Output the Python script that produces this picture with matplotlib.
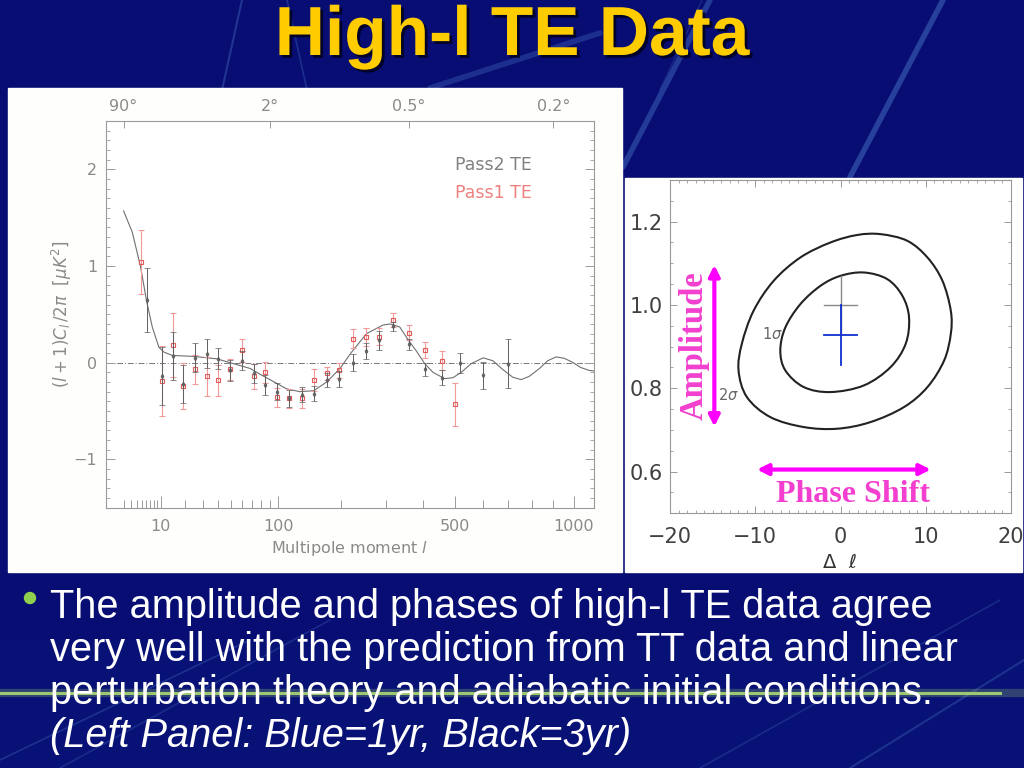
import numpy as np
import matplotlib
matplotlib.use('Agg')
import matplotlib.pyplot as plt
import matplotlib.patheffects as pe
from matplotlib.patches import Rectangle, Circle, PathPatch
from matplotlib.path import Path
from matplotlib.ticker import FixedLocator, FixedFormatter, NullFormatter

# ---------------- data ----------------
theory_l = [2, 3.24, 4.77, 6.1, 7.55, 9.47, 11.1, 14.2, 24.4, 39, 49.4, 68, 78.5,
            99.6, 111, 130, 152, 174, 199, 219, 254, 293, 310, 335, 359, 381, 405,
            430, 467, 494, 522, 557, 601, 638, 677, 718, 754, 790, 835, 873, 913,
            953, 994, 1037, 1081, 1107]
theory_te = [1.57, 1.35, 0.99, 0.64, 0.37, 0.16, 0.11, 0.075, 0.065, 0.04, 0.0, -0.06, -0.12,
             -0.22, -0.27, -0.30, -0.29, -0.20, -0.06, 0.09, 0.30, 0.39, 0.40, 0.37, 0.23, 0.12, -0.01,
             -0.10, -0.165, -0.155, -0.10, -0.01, 0.05, 0.02, -0.07, -0.15, -0.175, -0.14, -0.06, 0.02, 0.06,
             0.045, 0.005, -0.05, -0.08, -0.085]

pass2_l = [6.1, 10.6, 14.6, 19.0, 24.9, 32.3, 39.9, 49.0, 59.7, 71.4, 84, 98, 115, 133,
           152, 174, 197, 224, 252, 283, 318, 359, 405, 459, 518, 601, 699]
pass2_te = [0.65, -0.135, 0.07, -0.22, 0.05, 0.09, 0.04, -0.08, 0.02, -0.11, -0.23, -0.30, -0.37, -0.33,
            -0.32, -0.18, -0.17, 0.00, 0.12, 0.23, 0.375, 0.19, -0.07, -0.155, 0.00, -0.13, -0.01]
pass2_err = [0.33, 0.30, 0.25, 0.20, 0.15, 0.15, 0.11, 0.11, 0.10, 0.10, 0.10, 0.09, 0.09, 0.08,
             0.08, 0.07, 0.08, 0.085, 0.08, 0.10, 0.05, 0.06, 0.065, 0.075, 0.105, 0.14, 0.255]

pass1_l = [4.8, 10.6, 14.6, 19.0, 24.9, 32.3, 39.9, 49.0, 59.7, 71.4, 84, 98, 115, 133,
           152, 174, 197, 224, 252, 283, 318, 359, 405, 459, 500]
pass1_te = [1.04, -0.19, 0.18, -0.24, -0.07, -0.14, -0.18, -0.07, 0.13, -0.14, -0.10, -0.36, -0.37, -0.37,
            -0.18, -0.11, -0.08, 0.25, 0.265, 0.27, 0.44, 0.31, 0.13, 0.02, -0.43]
pass1_err = [0.33, 0.36, 0.33, 0.24, 0.15, 0.20, 0.16, 0.11, 0.12, 0.13, 0.11, 0.10, 0.10, 0.10,
             0.11, 0.07, 0.08, 0.095, 0.09, 0.09, 0.07, 0.08, 0.085, 0.10, 0.22]

bottom_major = [10, 100, 500, 1000]
bottom_major_labels = ['10', '100', '500', '1000']
bottom_minor = [2, 3, 4, 5, 6, 7, 8, 9, 20, 30, 40, 50, 60, 70, 80, 90,
                200, 300, 400, 600, 700, 800, 900]
top_ticks = [2, 90, 360, 900]
top_labels = ['90°', '2°', '0.5°', '0.2°']

# likelihood contours (phase shift, amplitude)
sig2_x = [4.71, 7.84, 10.2, 11.96, 12.94, 12.94, 12.16, 10.2, 7.45, 3.53, -0.39, -4.31,
          -8.24, -10.98, -11.96, -11.57, -10.2, -7.84, -4.71, -1.18, 1.96]
sig2_y = [1.170, 1.154, 1.114, 1.058, 0.986, 0.931, 0.867, 0.803, 0.755, 0.719, 0.703, 0.707,
          0.731, 0.779, 0.843, 0.907, 0.986, 1.058, 1.114, 1.150, 1.168]
sig1_x = [2.75, 5.49, 7.26, 8.04, 7.65, 5.88, 2.75, -1.18, -4.31, -6.47, -7.06, -6.47, -4.71, -2.35, 0.0]
sig1_y = [1.078, 1.062, 1.022, 0.970, 0.907, 0.851, 0.807, 0.791, 0.803, 0.843, 0.891, 0.946,
          1.002, 1.046, 1.070]
cross_gray = [0.0, 1.000, 1.96, 0.07]   # x, y, dx, dy
cross_blue = [0.0, 0.928, 1.96, 0.071]

bullet_lines = ["The amplitude and phases of high-l TE data agree",
                "very well with the prediction from TT data and linear",
                "perturbation theory and adiabatic initial conditions."]
bullet_italic = "(Left Panel: Blue=1yr, Black=3yr)"


def closed_smooth_path(xs, ys):
    pts = np.column_stack([xs, ys])
    n = len(pts)
    verts = [pts[0]]
    codes = [Path.MOVETO]
    for i in range(n):
        p0, p1, p2, p3 = pts[i - 1], pts[i], pts[(i + 1) % n], pts[(i + 2) % n]
        verts += [p1 + (p2 - p0) / 6.0, p2 - (p3 - p1) / 6.0, p2]
        codes += [Path.CURVE4] * 3
    return Path(verts, codes)


# ---------------- figure ----------------
fig = plt.figure(figsize=(10.24, 7.68), dpi=100)
navy = '#070d72'
fig.patch.set_facecolor(navy)

bg = fig.add_axes([0, 0, 1, 1], zorder=-5)
bg.set_xlim(0, 1024)
bg.set_ylim(768, 0)
bg.axis('off')
bg.add_patch(Rectangle((0, 0), 1024, 768, color=navy, zorder=0))
bg.add_patch(Rectangle((0, 640), 1024, 128, color='#0a1478', alpha=0.6, zorder=0))
# decorative streaks
streaks = [((242, 0), (222, 90), 1.5, 0.35), ((287, 0), (307, 90), 1.2, 0.3),
           ((430, 88), (600, 33), 4, 0.3), ((623, 167), (710, 0), 4, 0.4),
           ((850, 177), (943, 0), 4, 0.45), ((702, 0), (660, 90), 1.2, 0.2),
           ((0, 760), (250, 640), 1.2, 0.3), ((60, 768), (330, 620), 1.2, 0.25),
           ((700, 768), (1000, 600), 1.2, 0.25), ((850, 768), (1024, 660), 1.5, 0.3)]
for (x0, y0), (x1, y1), lw, a in streaks:
    bg.plot([x0, x1], [y0, y1], color='#4f7fd0', lw=lw, alpha=a, zorder=1,
            solid_capstyle='round')
bg.plot([0, 1024], [693, 693], color='#a8d870', lw=6, alpha=0.25, zorder=1)
bg.plot([0, 1000], [693, 693], color='#a8d870', lw=2.2, alpha=0.9, zorder=1)

# white panels
bg.add_patch(Rectangle((8, 88), 614, 484, color='#fefefc', zorder=2))
bg.add_patch(Rectangle((625, 178), 397, 394, color='white', zorder=2))

# title
bg.text(512, 55, 'High-l TE Data', ha='center', va='baseline', fontsize=50,
        fontweight='bold', color='#ffcc00', family=['Liberation Sans', 'DejaVu Sans'],
        zorder=5, path_effects=[pe.withSimplePatchShadow(offset=(2, -2), shadow_rgbFace='#000020', alpha=0.9)])

# bullet text
bg.add_patch(Circle((30, 598), 5.5, color='#8fd14f', zorder=5))
for i, line in enumerate(bullet_lines):
    bg.text(50, 618 + 43 * i, line, ha='left', va='baseline', fontsize=28.6,
            color='white', family=['Liberation Sans', 'DejaVu Sans'], zorder=5)
bg.text(50, 747, bullet_italic, ha='left', va='baseline', fontsize=28.6, style='italic',
        color='white', family=['Liberation Sans', 'DejaVu Sans'], zorder=5)

# ---------------- left panel ----------------
gray = '#8a8a8a'
axL = fig.add_axes([105.7 / 1024, 1 - 507.7 / 768, (594 - 105.7) / 1024, (507.7 - 121) / 768])
fwd = lambda x: np.sign(x) * np.abs(x) ** 0.4
inv = lambda u: np.sign(u) * np.abs(u) ** 2.5
axL.set_xscale('function', functions=(fwd, inv))
axL.set_xlim(0.474, 1107)
axL.set_ylim(-1.5, 2.5)
axL.set_facecolor('white')
for s in axL.spines.values():
    s.set_color('#9a9a9a')
    s.set_linewidth(0.8)

axL.axhline(0, color='#777777', lw=0.7, ls=(0, (6, 2, 1, 2)), zorder=1)
axL.plot(theory_l, theory_te, color='#707070', lw=0.8, zorder=2)
axL.errorbar(pass1_l, pass1_te, yerr=pass1_err, fmt='s', ms=3.5, mfc='none', mec='#e05a5a',
             mew=0.8, ecolor='#f29a9a', elinewidth=0.8, capsize=2.5, capthick=0.8, zorder=3)
axL.errorbar(pass2_l, pass2_te, yerr=pass2_err, fmt='d', ms=2.5, mfc='#666666', mec='#555555',
             mew=0.5, ecolor='#606060', elinewidth=0.7, capsize=2.5, capthick=0.7, zorder=4)

axL.xaxis.set_major_locator(FixedLocator(bottom_major))
axL.xaxis.set_major_formatter(FixedFormatter(bottom_major_labels))
axL.xaxis.set_minor_locator(FixedLocator(bottom_minor))
axL.xaxis.set_minor_formatter(NullFormatter())
axL.set_yticks([-1, 0, 1, 2])
axL.set_yticklabels(['\u22121', '0', '1', '2'])
axL.yaxis.set_minor_locator(FixedLocator(np.round(np.arange(-1.5, 2.51, 0.1), 2)))
axL.tick_params(axis='x', which='major', direction='in', length=8.6, width=0.7, colors='#9a9a9a',
                labelcolor=gray, labelsize=11.5, pad=8, top=False)
axL.tick_params(axis='x', which='minor', direction='in', length=5.5, width=0.7, colors='#9a9a9a', top=False)
axL.tick_params(axis='y', which='major', direction='in', length=6.5, width=0.7, colors='#9a9a9a',
                labelcolor=gray, labelsize=11.5, pad=6, right=True)
axL.tick_params(axis='y', which='minor', direction='in', length=3, width=0.6, colors='#9a9a9a', right=True)
axL.set_xlabel('Multipole moment $l$', color=gray, fontsize=11.5, labelpad=4)

axT = axL.twiny()
axT.set_xscale('function', functions=(fwd, inv))
axT.set_xlim(axL.get_xlim())
axT.xaxis.set_major_locator(FixedLocator(top_ticks))
axT.xaxis.set_major_formatter(FixedFormatter(top_labels))
axT.xaxis.set_minor_locator(FixedLocator([]))
axT.tick_params(axis='x', which='major', direction='in', length=5, width=0.7, colors='#9a9a9a',
                labelcolor=gray, labelsize=11.5, pad=5)
for s in axT.spines.values():
    s.set_visible(False)

fig.text(62 / 1024, 1 - 314 / 768, r'$(l+1)C_l\,/2\pi\ \ [\mu K^2]$', rotation=90,
         ha='center', va='center', color=gray, fontsize=12)

fig.text(455 / 1024, 1 - 165 / 768, 'Pass2 TE', color='#808080', fontsize=12.5, ha='left', va='center')
fig.text(455 / 1024, 1 - 193 / 768, 'Pass1 TE', color='#ef8080', fontsize=12.5, ha='left', va='center')

# ---------------- right panel ----------------
axR = fig.add_axes([670 / 1024, 1 - 513.3 / 768, 341 / 1024, 333.3 / 768])
axR.set_xlim(-20, 20)
axR.set_ylim(0.5, 1.3)
axR.set_facecolor('white')
for s in axR.spines.values():
    s.set_color('#999999')
    s.set_linewidth(0.8)
axR.set_xticks([-20, -10, 0, 10, 20])
axR.set_xticklabels(['\u221220', '\u221210', '0', '10', '20'])
axR.xaxis.set_minor_locator(FixedLocator(np.arange(-20, 21, 1)))
axR.set_yticks([0.6, 0.8, 1.0, 1.2])
axR.set_yticklabels(['0.6', '0.8', '1.0', '1.2'])
axR.yaxis.set_minor_locator(FixedLocator(np.round(np.arange(0.5, 1.31, 0.05), 2)))
axR.tick_params(which='major', direction='in', length=5, width=0.7, colors='#999999',
                labelcolor='#404040', labelsize=15, top=True, right=True)
axR.tick_params(which='minor', direction='in', length=2.5, width=0.6, colors='#999999',
                top=True, right=True)
axR.tick_params(axis='x', which='major', pad=10)
axR.tick_params(axis='y', which='major', pad=5)

axR.add_patch(PathPatch(closed_smooth_path(sig2_x, sig2_y), fill=False, ec='#222222', lw=1.5, zorder=3))
axR.add_patch(PathPatch(closed_smooth_path(sig1_x, sig1_y), fill=False, ec='#222222', lw=1.5, zorder=3))
cx, cy, dx, dy = cross_gray
axR.plot([cx - dx, cx + dx], [cy, cy], color='#888888', lw=1.0, zorder=4)
axR.plot([cx, cx], [cy - dy, cy + dy], color='#888888', lw=1.0, zorder=4)
cx, cy, dx, dy = cross_blue
axR.plot([cx - dx, cx + dx], [cy, cy], color='#1030d0', lw=1.3, zorder=5)
axR.plot([cx, cx], [cy - dy, cy + dy], color='#1030d0', lw=1.3, zorder=5)
axR.text(-8.0, 0.93, r'1$\sigma$', color='#666666', fontsize=10.5, ha='center', va='center')
axR.text(-13.1, 0.784, r'2$\sigma$', color='#666666', fontsize=10.5, ha='center', va='center')

mag = '#ff00ff'
axR.annotate('', xy=(-14.8, 1.096), xytext=(-14.8, 0.708),
             arrowprops=dict(arrowstyle='<|-|>', color=mag, lw=3, mutation_scale=16,
                             shrinkA=0, shrinkB=0), zorder=6)
axR.annotate('', xy=(10.6, 0.605), xytext=(-9.8, 0.605),
             arrowprops=dict(arrowstyle='<|-|>', color=mag, lw=3, mutation_scale=16,
                             shrinkA=0, shrinkB=0), zorder=6)
axR.text(-17.2, 0.902, 'Amplitude', rotation=90, color='#f23fcf', fontsize=23.5, fontweight='bold',
         family=['Liberation Serif', 'DejaVu Serif'], ha='center', va='center', zorder=6)
axR.text(1.5, 0.528, 'Phase Shift', color='#f23fcf', fontsize=23, fontweight='bold',
         family=['Liberation Serif', 'DejaVu Serif'], ha='center', va='baseline', zorder=6)

fig.text(840 / 1024, 1 - 563 / 768, '\u0394  \u2113', color='#333333', fontsize=14,
         ha='center', va='center')

fig.savefig('out.png', dpi=100, facecolor=fig.get_facecolor())
